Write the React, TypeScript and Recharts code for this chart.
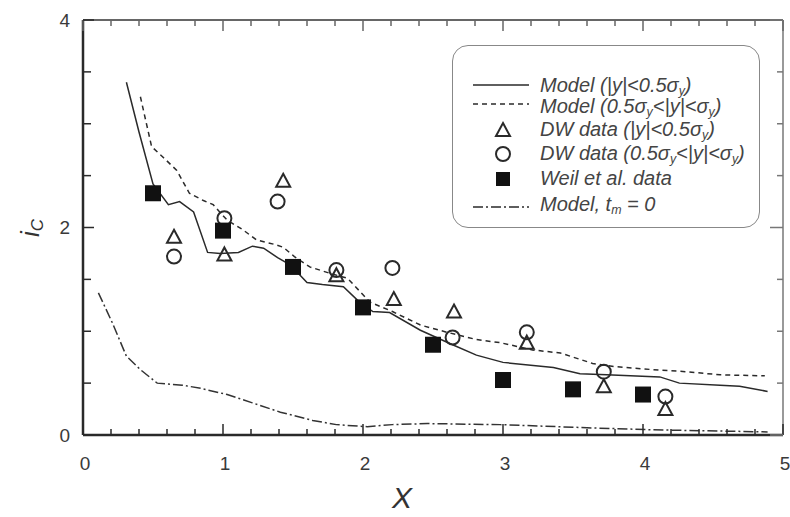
import React from "react";
import {
  ComposedChart,
  Line,
  Scatter,
  XAxis,
  YAxis,
  Legend,
} from "recharts";

// Model curves
const modelInnerX = [0.31, 0.4, 0.5, 0.61, 0.69, 0.79, 0.89, 0.98, 1.11, 1.21, 1.29, 1.39, 1.48, 1.6, 1.71, 1.86, 1.96, 2.07, 2.19, 2.41, 2.64, 2.81, 3.0, 3.36, 3.55, 3.74, 4.12, 4.26, 4.55, 4.69, 4.89];
const modelInnerY = [3.4, 2.92, 2.42, 2.22, 2.25, 2.15, 1.76, 1.75, 1.76, 1.82, 1.8, 1.71, 1.64, 1.47, 1.45, 1.43, 1.3, 1.19, 1.18, 1.01, 0.87, 0.77, 0.7, 0.65, 0.59, 0.58, 0.56, 0.5, 0.48, 0.47, 0.42];

const modelOuterX = [0.41, 0.49, 0.57, 0.67, 0.76, 0.86, 0.93, 1.03, 1.14, 1.24, 1.36, 1.43, 1.51, 1.62, 1.76, 1.89, 2.05, 2.21, 2.41, 2.6, 2.81, 2.98, 3.21, 3.41, 3.64, 3.79, 4.07, 4.31, 4.55, 4.87];
const modelOuterY = [3.26, 2.78, 2.68, 2.55, 2.33, 2.26, 2.22, 2.07, 1.98, 1.88, 1.84, 1.81, 1.72, 1.62, 1.56, 1.51, 1.28, 1.19, 1.06, 0.99, 0.92, 0.89, 0.82, 0.79, 0.69, 0.66, 0.63, 0.61, 0.58, 0.57];

const modelTm0X = [0.11, 0.21, 0.31, 0.41, 0.53, 0.71, 0.84, 1.03, 1.21, 1.41, 1.64, 1.81, 2.03, 2.21, 2.46, 2.98, 3.6, 4.07, 4.89];
const modelTm0Y = [1.37, 1.08, 0.76, 0.63, 0.5, 0.48, 0.45, 0.39, 0.31, 0.22, 0.14, 0.1, 0.08, 0.1, 0.11, 0.1, 0.07, 0.05, 0.03];

// Measurements
const dwInnerX = [0.65, 1.01, 1.43, 1.81, 2.22, 2.65, 3.17, 3.72, 4.16];
const dwInnerY = [1.91, 1.74, 2.45, 1.54, 1.31, 1.19, 0.89, 0.47, 0.25];

const dwOuterX = [0.65, 1.01, 1.39, 1.81, 2.21, 2.64, 3.17, 3.72, 4.16];
const dwOuterY = [1.72, 2.09, 2.25, 1.59, 1.61, 0.94, 0.99, 0.61, 0.37];

const weilX = [0.5, 1, 1.5, 2, 2.5, 3, 3.5, 4];
const weilY = [2.33, 1.97, 1.62, 1.23, 0.87, 0.53, 0.44, 0.39];

// Axes
const xTicks = [0, 0.2, 0.4, 0.6, 0.8, 1, 1.2, 1.4, 1.6, 1.8, 2, 2.2, 2.4, 2.6, 2.8, 3, 3.2, 3.4, 3.6, 3.8, 4, 4.2, 4.4, 4.6, 4.8, 5];
const xLabels = [0, 1, 2, 3, 4, 5];
const yTicks = [0, 0.5, 1, 1.5, 2, 2.5, 3, 3.5, 4];
const yLabels = [0, 2, 4];

const zip = (xs: number[], ys: number[]) => xs.map((x, i) => ({ x, y: ys[i] }));

const INK = "#2a2a2a";
const TICK_FONT = "'Liberation Sans', Arial, sans-serif";
const LEGEND_FONT = "'Liberation Sans Narrow', 'Liberation Sans', Arial, sans-serif";

const BottomTick = (props: any) => {
  const { x, y, payload } = props;
  const major = Number.isInteger(payload.value);
  return (
    <g>
      <line x1={x} x2={x} y1={y} y2={y - (major ? 11 : 6)} stroke={INK} strokeWidth={1.5} />
      {major && xLabels.includes(payload.value) && (
        <text x={x + 2} y={y + 28} textAnchor="middle" dominantBaseline="central" fontSize={19} fill="#3a3a3a" fontFamily={TICK_FONT}>
          {payload.value}
        </text>
      )}
    </g>
  );
};

const TopTick = (props: any) => {
  const { x, y, payload } = props;
  const major = Number.isInteger(payload.value);
  return <line x1={x} x2={x} y1={y} y2={y + (major ? 11 : 6)} stroke="#666" strokeWidth={1.5} />;
};

const LeftTick = (props: any) => {
  const { x, y, payload } = props;
  const major = payload.value % 2 === 0;
  return (
    <g>
      <line x1={x} x2={x + (major ? 11 : 8)} y1={y} y2={y} stroke={INK} strokeWidth={1.5} />
      {yLabels.includes(payload.value) && (
        <text x={x - 13} y={y} textAnchor="end" dominantBaseline="central" fontSize={19} fill="#3a3a3a" fontFamily={TICK_FONT}>
          {payload.value}
        </text>
      )}
    </g>
  );
};

const RightTick = (props: any) => {
  const { x, y, payload } = props;
  const major = payload.value % 2 === 0;
  return <line x1={x} x2={x - (major ? 13 : 6)} y1={y} y2={y} stroke="#777" strokeWidth={1.5} />;
};

const Square = (p: any) => <rect x={p.cx - 8} y={p.cy - 8} width={16} height={16} fill="#111" />;
const Circle = (p: any) => <circle cx={p.cx} cy={p.cy} r={7} fill="none" stroke={INK} strokeWidth={2} />;
const Triangle = (p: any) => (
  <path d={`M${p.cx},${p.cy - 7} L${p.cx + 7},${p.cy + 6} L${p.cx - 7},${p.cy + 6} Z`} fill="none" stroke={INK} strokeWidth={2} />
);

const sub = (s: string) => (
  <span style={{ fontSize: "0.62em", position: "relative", top: "0.25em", lineHeight: 1 }}>{s}</span>
);

const legendRows = [
  { kind: "solid", top: 84, label: <>Model (|y|&lt;0.5σ{sub("y")})</> },
  { kind: "dashed", top: 105, label: <>Model (0.5σ{sub("y")}&lt;|y|&lt;σ{sub("y")})</> },
  { kind: "triangle", top: 128, label: <>DW data (|y|&lt;0.5σ{sub("y")})</> },
  { kind: "circle", top: 152, label: <>DW data (0.5σ{sub("y")}&lt;|y|&lt;σ{sub("y")})</> },
  { kind: "square", top: 177, label: <>Weil et al. data</> },
  { kind: "dashdot", top: 203, label: <>Model, t{sub("m")} = 0</> },
];

const BOX_LEFT = 452;
const BOX_TOP = 45;

const Sample = ({ kind }: { kind: string }) => (
  <svg width={62} height={24} style={{ position: "absolute", left: 18, top: 0 }}>
    {kind === "solid" && <line x1={2} x2={58} y1={11} y2={11} stroke={INK} strokeWidth={1.5} />}
    {kind === "dashed" && <line x1={2} x2={58} y1={9} y2={9} stroke={INK} strokeWidth={1.5} strokeDasharray="5 4" />}
    {kind === "dashdot" && <line x1={2} x2={58} y1={14} y2={14} stroke={INK} strokeWidth={1.5} strokeDasharray="10 3 2 3" />}
    {kind === "triangle" && <Triangle cx={32} cy={12} />}
    {kind === "circle" && <Circle cx={32} cy={12} />}
    {kind === "square" && <rect x={25} y={5} width={14} height={14} fill="#111" />}
  </svg>
);

const LegendBox = () => (
  <div
    style={{
      position: "absolute",
      left: 0,
      top: 0,
      width: 308,
      height: 183,
      border: "1.5px solid #888",
      borderRadius: 16,
      boxSizing: "border-box",
    }}
  >
    {legendRows.map((r) => (
      <div key={r.kind} style={{ position: "absolute", left: 0, top: r.top - BOX_TOP - 11, height: 22, width: 300 }}>
        <Sample kind={r.kind} />
        <span
          style={{
            position: "absolute",
            left: 87,
            top: 0,
            lineHeight: "22px",
            fontSize: 20,
            fontStyle: "italic",
            fontFamily: LEGEND_FONT,
            color: "#444",
            whiteSpace: "nowrap",
          }}
        >
          {r.label}
        </span>
      </div>
    ))}
  </div>
);

export default function App() {
  return (
    <div style={{ position: "absolute", left: 0, top: 0, width: 790, height: 517, background: "#fff" }}>
      <ComposedChart
        width={790}
        height={517}
        margin={{ top: 19, right: 6, bottom: 81, left: 82 }}
      >
        <XAxis
          xAxisId="bottom"
          type="number"
          dataKey="x"
          domain={[0, 5]}
          ticks={xTicks}
          interval={0}
          height={1}
          tickSize={0}
          tickMargin={0}
          tickLine={false}
          tick={BottomTick}
          axisLine={{ stroke: INK, strokeWidth: 2.5 }}
          allowDataOverflow
        />
        <XAxis
          xAxisId="top"
          orientation="top"
          type="number"
          dataKey="x"
          domain={[0, 5]}
          ticks={xTicks}
          interval={0}
          height={1}
          tickSize={0}
          tickMargin={0}
          tickLine={false}
          tick={TopTick}
          axisLine={{ stroke: "#666", strokeWidth: 2 }}
          allowDataOverflow
        />
        <YAxis
          yAxisId="left"
          type="number"
          dataKey="y"
          domain={[0, 4]}
          ticks={yTicks}
          interval={0}
          width={1}
          tickSize={0}
          tickMargin={0}
          tickLine={false}
          tick={LeftTick}
          axisLine={{ stroke: INK, strokeWidth: 2.5 }}
          allowDataOverflow
        />
        <YAxis
          yAxisId="right"
          orientation="right"
          type="number"
          dataKey="y"
          domain={[0, 4]}
          ticks={yTicks}
          interval={0}
          width={1}
          tickSize={0}
          tickMargin={0}
          tickLine={false}
          tick={RightTick}
          axisLine={{ stroke: "#999", strokeWidth: 2 }}
          allowDataOverflow
        />

        <Line xAxisId="bottom" yAxisId="left" data={zip(modelInnerX, modelInnerY)} dataKey="y" type="linear" stroke={INK} strokeWidth={1.5} dot={false} isAnimationActive={false} name="Model inner" />
        <Line xAxisId="bottom" yAxisId="left" data={zip(modelOuterX, modelOuterY)} dataKey="y" type="linear" stroke={INK} strokeWidth={1.5} strokeDasharray="5 4" dot={false} isAnimationActive={false} name="Model outer" />
        <Line xAxisId="bottom" yAxisId="left" data={zip(modelTm0X, modelTm0Y)} dataKey="y" type="linear" stroke="#333" strokeWidth={1.5} strokeDasharray="10 3 2 3" dot={false} isAnimationActive={false} name="Model tm0" />

        <Scatter xAxisId="bottom" yAxisId="left" data={zip(dwInnerX, dwInnerY)} dataKey="y" shape={Triangle} isAnimationActive={false} name="DW inner" />
        <Scatter xAxisId="bottom" yAxisId="left" data={zip(dwOuterX, dwOuterY)} dataKey="y" shape={Circle} isAnimationActive={false} name="DW outer" />
        <Scatter xAxisId="bottom" yAxisId="left" data={zip(weilX, weilY)} dataKey="y" shape={Square} isAnimationActive={false} name="Weil" />

        <Legend
          layout="horizontal"
          verticalAlign="middle"
          align="center"
          content={() => <LegendBox />}
          wrapperStyle={{ position: "absolute", left: BOX_LEFT, top: BOX_TOP, width: 308, height: 183 }}
        />

        <text x={402} y={497} textAnchor="middle" dominantBaseline="central" fontSize={30} fontStyle="italic" fill="#333" fontFamily={TICK_FONT}>
          X
        </text>
        <text transform="translate(30,228) rotate(-90)" textAnchor="middle" dominantBaseline="central" fontSize={26} fontStyle="italic" fill="#333" fontFamily={TICK_FONT}>
          i<tspan fontSize={17} dy={7}>C</tspan>
        </text>
      </ComposedChart>
    </div>
  );
}
